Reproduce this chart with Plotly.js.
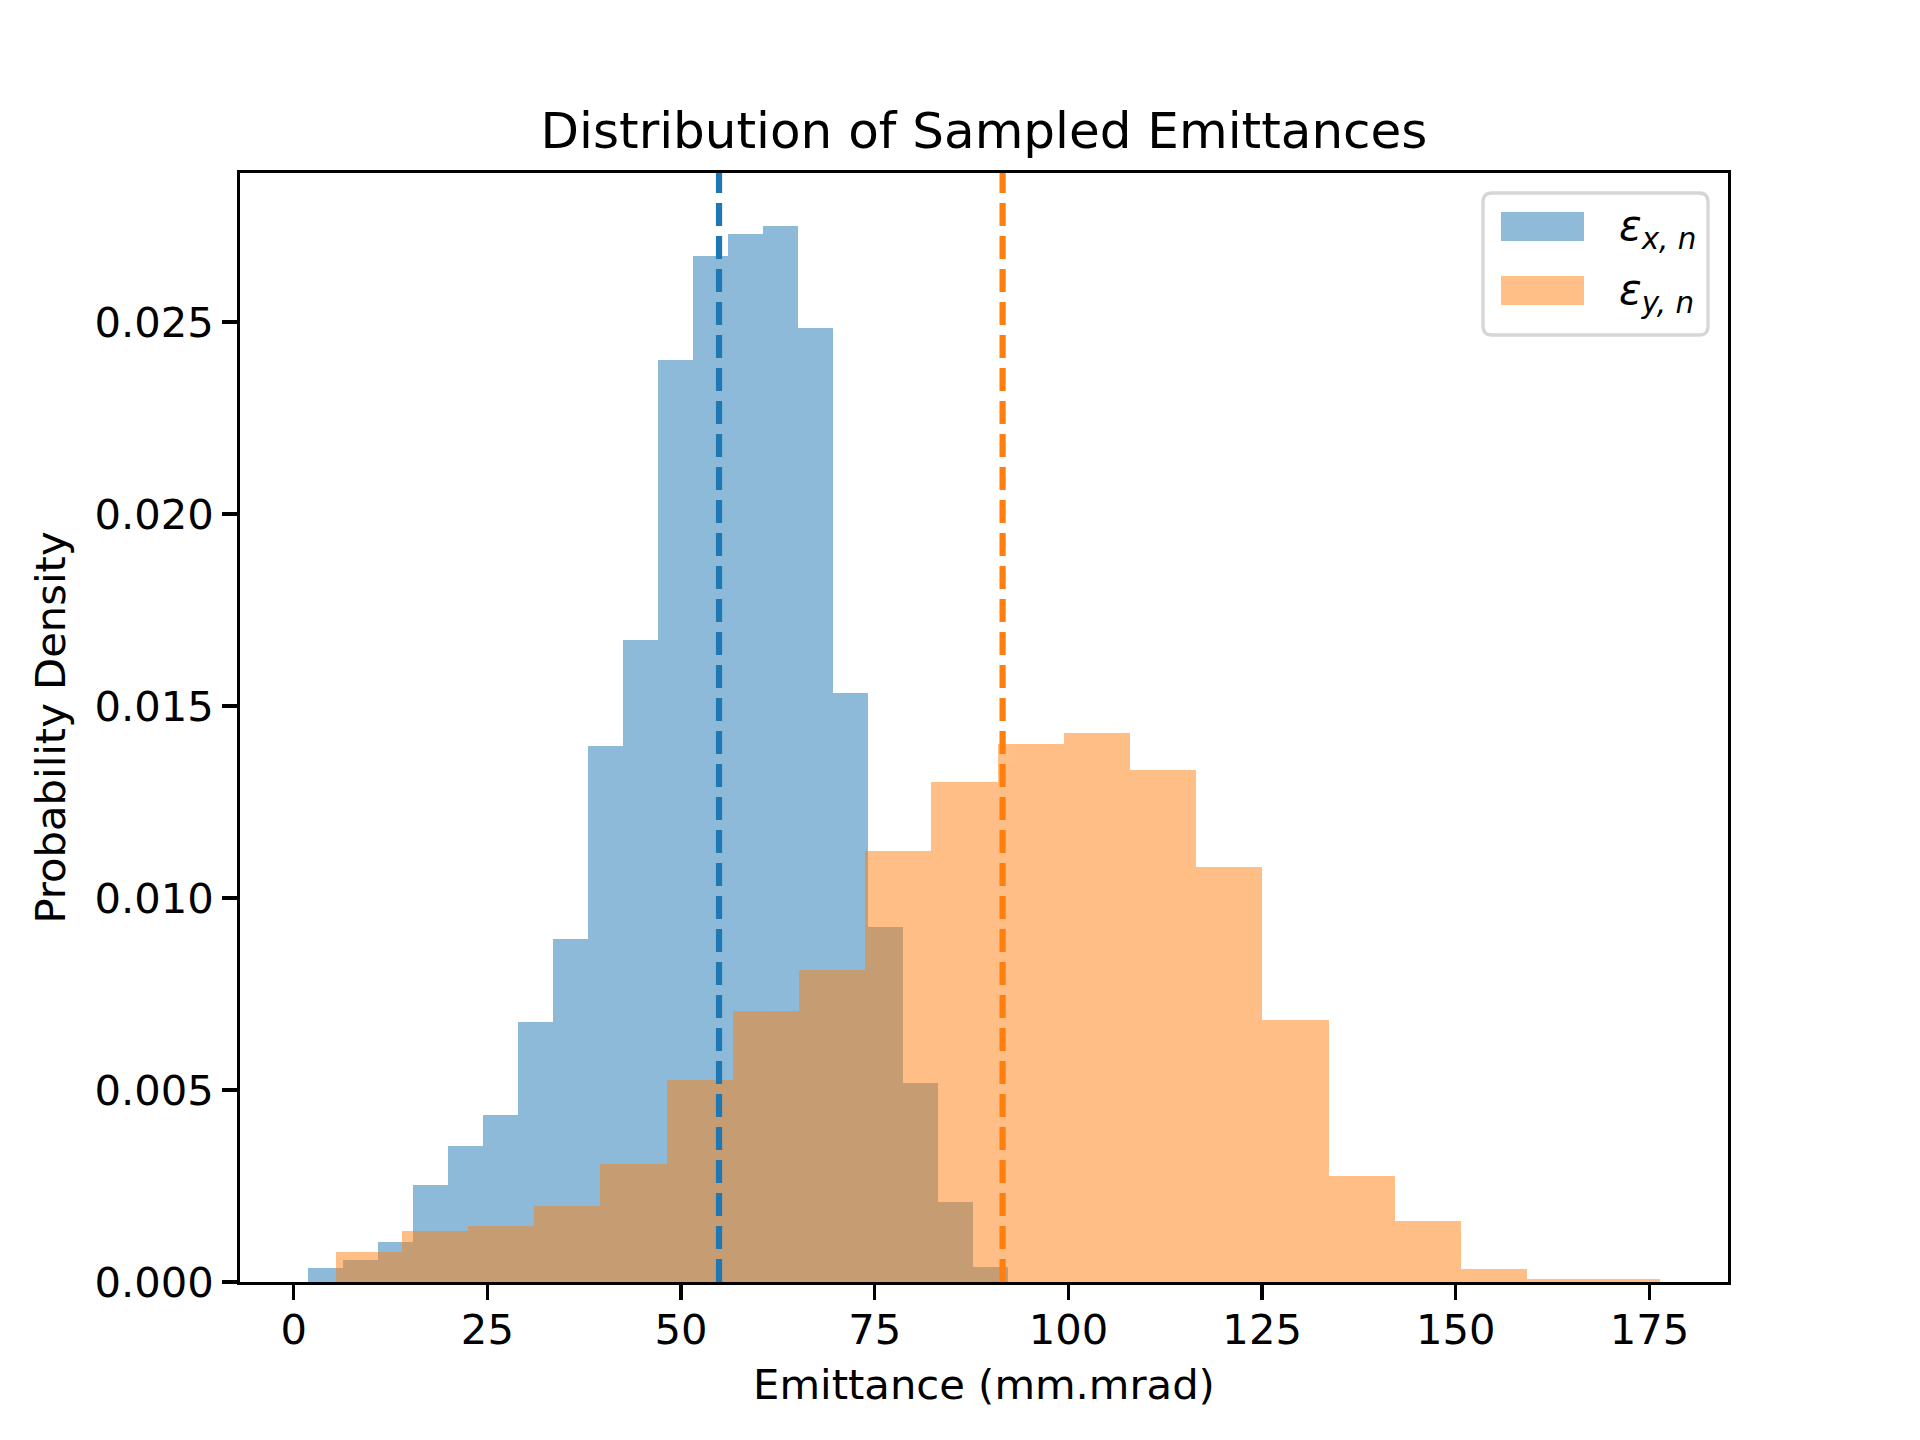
<!DOCTYPE html>
<html>
<head>
<meta charset="utf-8">
<script src="https://cdn.plot.ly/plotly-3.0.1.min.js"></script>
<style>
  body { margin: 0; background: #fff; }
  #chart { width: 1920px; height: 1440px; }
</style>
</head>
<body>
<div id="chart"></div>
<script>
// histogram bin edges (mm.mrad) and densities
const blueEdges = [1.83, 6.35, 10.87, 15.39, 19.91, 24.43, 28.95, 33.47, 37.99, 42.51, 47.03,
    51.55, 56.07, 60.59, 65.11, 69.63, 74.15, 78.67, 83.19, 87.71, 92.23]
const blueDensity = [0.00036, 0.00057, 0.00104, 0.00253, 0.00355, 0.00435, 0.00678, 0.00892, 0.01397, 0.01672,
    0.02401, 0.02672, 0.02729, 0.02750, 0.02484, 0.01535, 0.00924, 0.00518, 0.00208, 0.00038]

const orangeEdges = [5.40, 13.95, 22.49, 31.04, 39.58, 48.13, 56.67, 65.22, 73.76, 82.31, 90.85,
    99.40, 107.94, 116.49, 125.03, 133.58, 142.12, 150.67, 159.21, 167.76, 176.30]
const orangeDensity = [0.00077, 0.00133, 0.00147, 0.00198, 0.00307, 0.00527, 0.00707, 0.00812, 0.01122, 0.01301,
    0.01400, 0.01429, 0.01333, 0.01081, 0.00681, 0.00275, 0.00160, 0.00034, 0.00008, 0.00008]

const seriesNames = ['<i>ε</i><sub><i>x, n</i></sub>', '<i>ε</i><sub><i>y, n</i></sub>']
const meanValues = [54.9, 91.5]
const xTicks = [0, 25, 50, 75, 100, 125, 150, 175]
const yTicks = [0, 0.005, 0.010, 0.015, 0.020, 0.025]

const FONT = 'DejaVu Sans, sans-serif'
const colors = ['#1f77b4', '#ff7f0e']

function barTrace(edges, dens, color, name) {
    const centers = dens.map((_, i) => (edges[i] + edges[i + 1]) / 2)
    const widths = dens.map((_, i) => edges[i + 1] - edges[i])
    return {
        type: 'bar',
        x: centers,
        y: dens,
        width: widths,
        name: name,
        opacity: 0.5,
        marker: { color: color, line: { width: 0 } },
        showlegend: false,
        hoverinfo: 'x+y'
    }
}

const traces = [
    barTrace(blueEdges, blueDensity, colors[0], 'εx,n'),
    barTrace(orangeEdges, orangeDensity, colors[1], 'εy,n')
]

// plot area in pixels
const L = 240, R = 1728, T = 173, B = 1282
const px = x => (x - L) / (R - L)
const py = y => (B - y) / (B - T)

function roundRect(x0, y0, x1, y1, r) {
    const rx = r / (R - L), ry = r / (B - T)
    const a = px(x0), b = px(x1), c = py(y0), d = py(y1)
    return `M${a + rx},${c} L${b - rx},${c} Q${b},${c} ${b},${c - ry} ` +
        `L${b},${d + ry} Q${b},${d} ${b - rx},${d} L${a + rx},${d} Q${a},${d} ${a},${d + ry} ` +
        `L${a},${c - ry} Q${a},${c} ${a + rx},${c} Z`
}

const shapes = meanValues.map((m, i) => ({
    type: 'line', xref: 'x', yref: 'paper', x0: m, x1: m, y0: 0, y1: 1,
    line: { color: colors[i], width: 6.2, dash: '23px,10px' }
}))

// legend frame and patches
shapes.push({
    type: 'path', xref: 'paper', yref: 'paper',
    path: roundRect(1483, 193, 1708, 335, 9),
    fillcolor: 'rgba(255,255,255,0.8)',
    line: { color: '#d6d6d6', width: 3.3 }
})
const patchRows = [[212, 241], [276, 305]]
patchRows.forEach((row, i) => {
    shapes.push({
        type: 'rect', xref: 'paper', yref: 'paper',
        x0: px(1501), x1: px(1584), y0: py(row[1]), y1: py(row[0]),
        fillcolor: colors[i], opacity: 0.5, line: { width: 0 }
    })
})

const annotations = seriesNames.map((txt, i) => ({
    xref: 'paper', yref: 'paper',
    x: px(1617), y: py((patchRows[i][0] + patchRows[i][1]) / 2 + 2),
    xanchor: 'left', yanchor: 'middle',
    text: txt, showarrow: false,
    font: { family: FONT, size: 42, color: '#000' }
}))

const axisCommon = {
    showline: true, mirror: true, linecolor: '#000', linewidth: 3.3,
    showgrid: false, zeroline: false,
    ticks: 'outside', ticklen: 14.6, tickwidth: 3.3, tickcolor: '#000',
    tickfont: { family: FONT, size: 41.7, color: '#000' }
}

const layout = {
    width: 1920, height: 1440,
    margin: { l: L, r: 1920 - R, t: T, b: 1440 - B, pad: 0 },
    paper_bgcolor: '#fff', plot_bgcolor: '#fff',
    barmode: 'overlay', bargap: 0,
    showlegend: false,
    title: {
        text: 'Distribution of Sampled Emittances',
        font: { family: FONT, size: 50, color: '#000' },
        xref: 'paper', x: 0.5, xanchor: 'center',
        yref: 'paper', y: 1, yanchor: 'bottom', pad: { b: 25 }
    },
    xaxis: Object.assign({}, axisCommon, {
        range: [-6.93, 185.13],
        tickvals: xTicks, ticktext: xTicks.map(String),
        ticklabelstandoff: -6,
        title: { text: 'Emittance (mm.mrad)', font: { family: FONT, size: 41.7, color: '#000' }, standoff: 18 }
    }),
    yaxis: Object.assign({}, axisCommon, {
        range: [0, 0.02888],
        tickvals: yTicks, ticktext: yTicks.map(v => v.toFixed(3)),
        title: { text: 'Probability Density', font: { family: FONT, size: 41.7, color: '#000' }, standoff: 16 }
    }),
    shapes: shapes,
    annotations: annotations
}

Plotly.newPlot('chart', traces, layout, { staticPlot: true })
</script>
</body>
</html>
